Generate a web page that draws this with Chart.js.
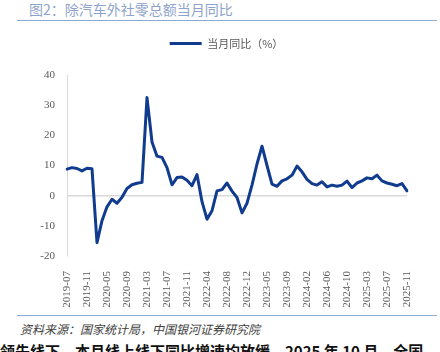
<!DOCTYPE html>
<html><head><meta charset="utf-8">
<script src="https://cdn.jsdelivr.net/npm/chart.js@4.4.1/dist/chart.umd.min.js"></script>
<style>
html,body{margin:0;padding:0;background:#fff;width:440px;height:352px;overflow:hidden;position:relative;font-family:"Noto Sans CJK SC",sans-serif;}
#title{position:absolute;left:29px;top:0px;font-size:14px;line-height:18px;color:#8EA3CB;white-space:nowrap;}
#rule1{position:absolute;left:17px;width:420px;top:20px;height:0;border-top:1.5px solid #8FA8D4;}
#wrap{position:absolute;left:0;top:0;width:440px;height:312px;}
#rule2{position:absolute;left:17px;width:420px;top:315px;height:0;border-top:1.5px solid #8FA8D4;}
#source{position:absolute;left:20px;top:321px;font-size:12px;line-height:16px;font-style:italic;color:#404040;white-space:nowrap;}
#para{position:absolute;left:0px;top:341px;font-size:15px;line-height:20px;font-weight:bold;color:#111;white-space:nowrap;}
</style></head>
<body>
<div id="title">图2：除汽车外社零总额当月同比</div>
<div id="rule1"></div>
<div id="wrap"><canvas id="c"></canvas></div>
<div id="rule2"></div>
<div id="source">资料来源：国家统计局，中国银河证券研究院</div>
<div id="para">领先线下，本月线上线下同比增速均放缓。2025 年 10 月，全国</div>
<script>
const months = [
 "2019-07","2019-08","2019-09","2019-10","2019-11","2019-12",
 "2020-03","2020-04","2020-05","2020-06","2020-07","2020-08","2020-09","2020-10","2020-11","2020-12",
 "2021-03","2021-04","2021-05","2021-06","2021-07","2021-08","2021-09","2021-10","2021-11","2021-12",
 "2022-02","2022-03","2022-04","2022-05","2022-06","2022-07","2022-08","2022-09","2022-10","2022-11","2022-12",
 "2023-02","2023-03","2023-04","2023-05","2023-06","2023-07","2023-08","2023-09","2023-10","2023-11","2023-12",
 "2024-02","2024-03","2024-04","2024-05","2024-06","2024-07","2024-08","2024-09","2024-10","2024-11","2024-12",
 "2025-02","2025-03","2025-04","2025-05","2025-06","2025-07","2025-08","2025-09","2025-10","2025-11"
];
const yoy = [
 8.8, 9.3, 9.0, 8.2, 9.1, 8.9,
 -15.6, -8.3, -3.7, -1.2, -2.5, -0.5, 2.4, 3.6, 4.1, 4.4,
 32.5, 17.8, 13.1, 12.7, 9.3, 3.6, 6.0, 6.2, 5.1, 3.3,
 7.0, -2.0, -7.8, -5.0, 1.6, 2.0, 4.2, 1.5, -0.6, -5.7, -2.5,
 3.5, 10.5, 16.4, 10.0, 3.8, 3.1, 4.9, 5.6, 6.8, 9.8, 7.9,
 5.4, 4.0, 3.5, 4.6, 2.9, 3.5, 3.1, 3.5, 4.8, 2.7, 4.2,
 4.9, 5.9, 5.6, 6.8, 4.9, 4.2, 3.8, 3.3, 4.0, 1.6
];
const seriesName = "当月同比（%）";
const yTicks = [40, 30, 20, 10, 0, -10, -20];
const labelEvery = 4;

// move the legend box up and to the right after layout (reference places it off-centre)
const legendShift = {
  id: 'legendShift',
  afterLayout(chart) {
    const lg = chart.legend;
    if (!lg) return;
    const dx = 23, dy = -16;
    lg.left += dx; lg.right += dx;
    lg.top += dy; lg.bottom += dy;
  }
};

new Chart(document.getElementById('c'), {
  type: 'line',
  data: {
    labels: months,
    datasets: [{
      label: seriesName,
      data: yoy,
      borderColor: '#103B8E',
      backgroundColor: '#103B8E',
      borderWidth: 3,
      pointRadius: 0,
      tension: 0,
      borderCapStyle: 'round',
      borderJoinStyle: 'round',
      fill: false
    }]
  },
  plugins: [legendShift],
  options: {
    responsive: true,
    maintainAspectRatio: false,
    animation: false,
    devicePixelRatio: 1,
    layout: { padding: { left: 0, right: 33, top: 28, bottom: 0 } },
    plugins: {
      legend: {
        display: true,
        position: 'top',
        labels: {
          usePointStyle: true,
          pointStyle: 'line',
          pointStyleWidth: 32,
          padding: 10,
          color: '#595959',
          font: { family: '"Noto Sans CJK SC", sans-serif', size: 11 }
        }
      },
      tooltip: { enabled: false }
    },
    scales: {
      x: {
        type: 'category',
        offset: false,
        grid: { display: false },
        border: { display: false },
        ticks: {
          autoSkip: false,
          minRotation: 90,
          maxRotation: 90,
          padding: 7,
          color: '#595959',
          font: { family: '"Liberation Serif", serif', size: 11 },
          callback: function(v, i) { return i % labelEvery === 0 ? months[i] : null; }
        },
        afterFit: function(s) { s.height = 56; }
      },
      y: {
        min: yTicks[yTicks.length - 1],
        max: yTicks[0],
        grid: {
          drawTicks: false,
          color: function(ctx) { return ctx.tick && ctx.tick.value === 0 ? '#D9D9D9' : 'rgba(0,0,0,0)'; },
          lineWidth: 1.5
        },
        border: { display: true, color: '#D9D9D9', width: 1 },
        ticks: {
          stepSize: 10,
          padding: 12,
          color: '#595959',
          font: { family: '"Liberation Serif", serif', size: 11 }
        },
        afterFit: function(s) { s.width = 67; s.paddingTop = 75; }
      }
    }
  }
});
</script>
</body></html>
